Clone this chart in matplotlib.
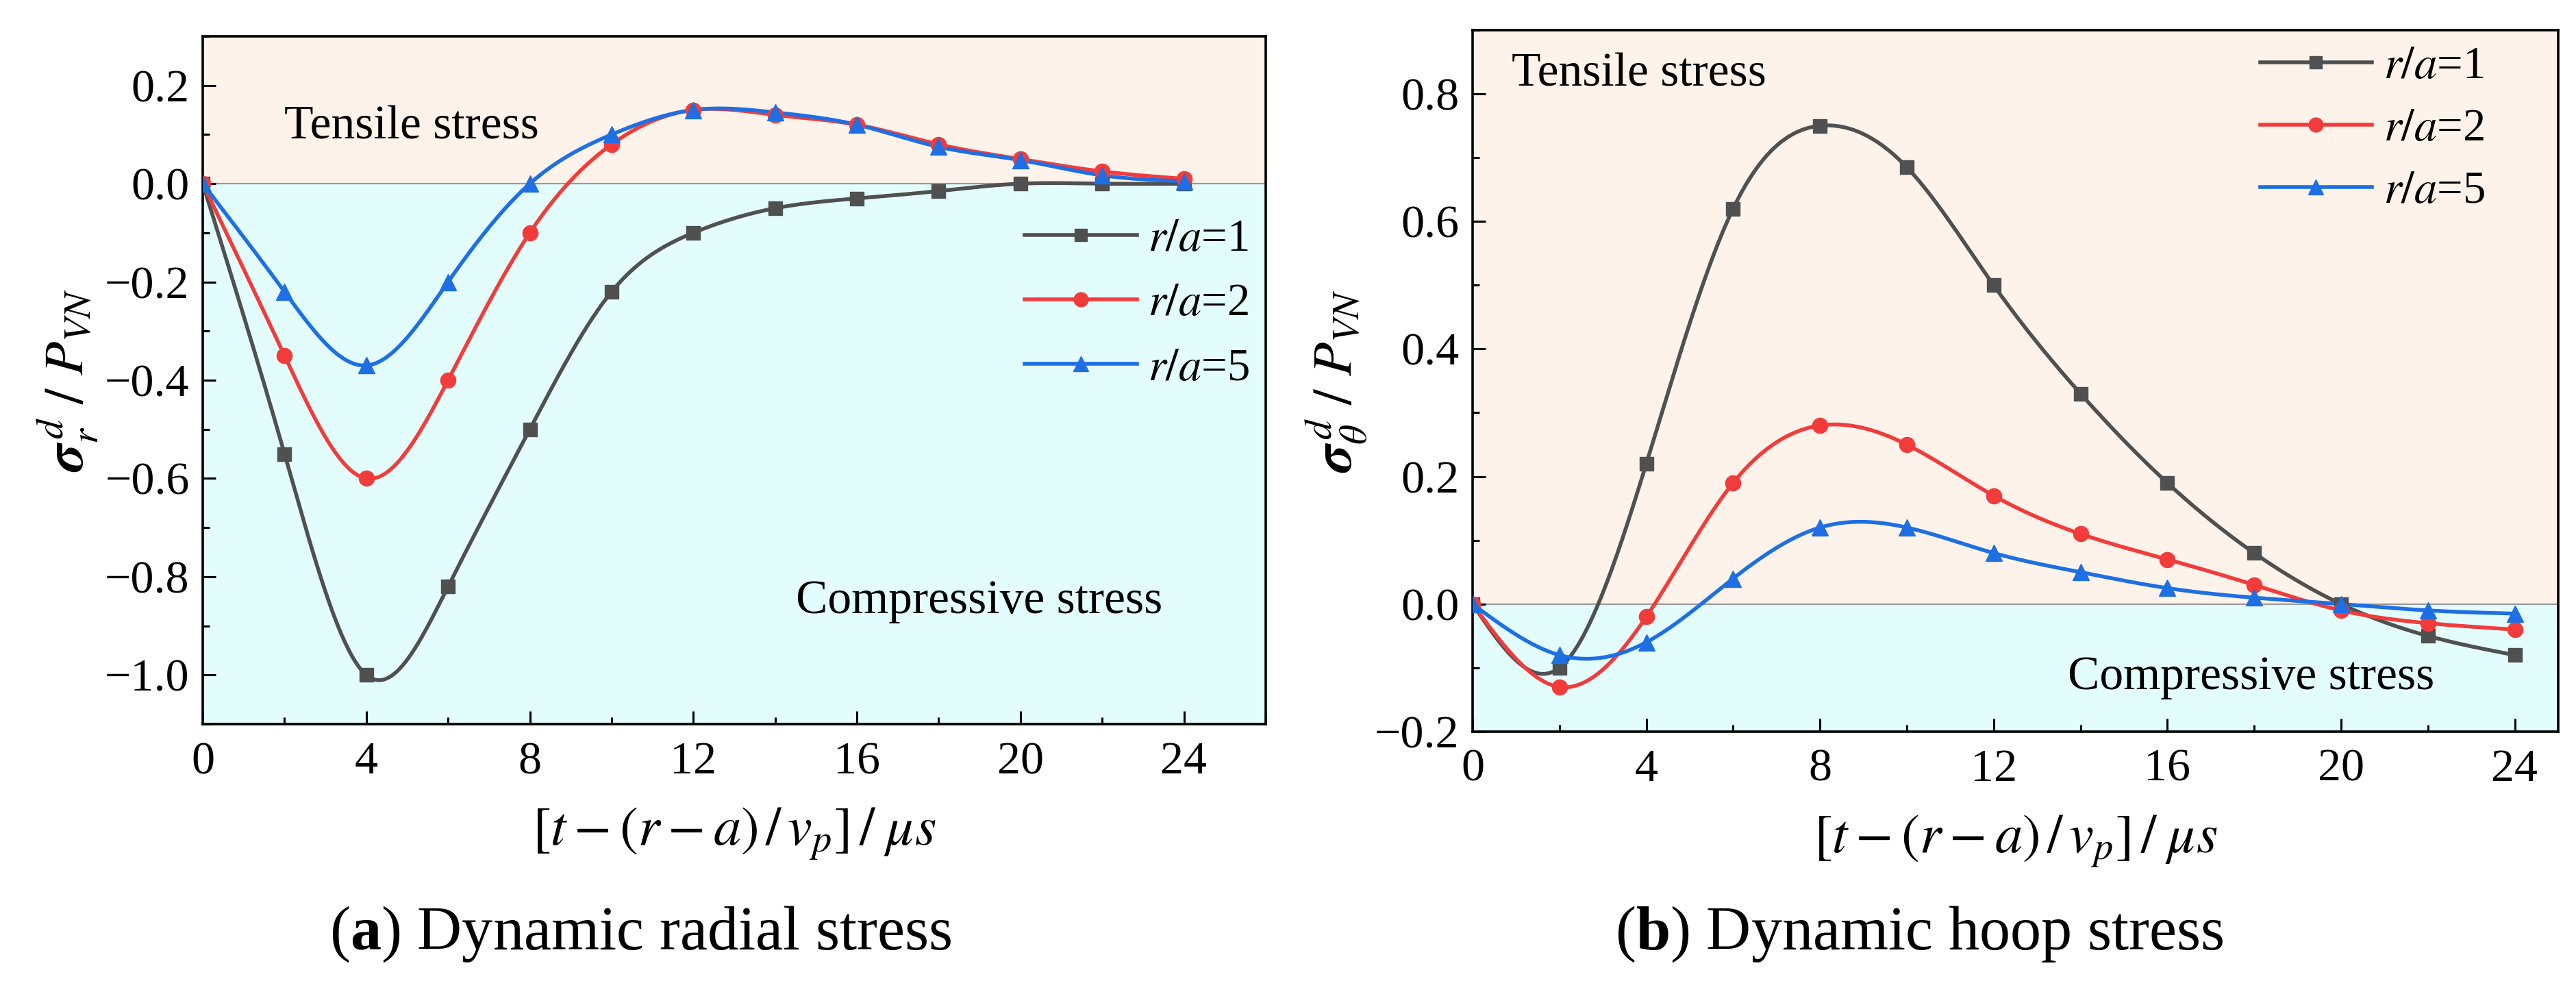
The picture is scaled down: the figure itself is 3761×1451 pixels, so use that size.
import numpy as np
import matplotlib
matplotlib.use("Agg")
import matplotlib.pyplot as plt
from matplotlib.ticker import MultipleLocator, FuncFormatter

plt.rcParams['font.family'] = ['Liberation Serif', 'DejaVu Serif']
plt.rcParams['mathtext.fontset'] = 'stix'
plt.rcParams['mathtext.rm'] = 'Liberation Serif'
plt.rcParams['mathtext.bf'] = 'Liberation Serif:bold'
plt.rcParams['mathtext.it'] = 'Liberation Serif:italic'
plt.rcParams['axes.unicode_minus'] = True

# ---------------- data ----------------
t = [0, 2, 4, 6, 8, 10, 12, 14, 16, 18, 20, 22, 24]
labels = [r'$r/a$=1', r'$r/a$=2', r'$r/a$=5']

radial_r1 = [0, -0.55, -1.0, -0.82, -0.5, -0.22, -0.10, -0.05, -0.03, -0.015, 0.0, 0.0, 0.0]
radial_r2 = [0, -0.35, -0.60, -0.40, -0.10, 0.08, 0.15, 0.14, 0.12, 0.08, 0.05, 0.025, 0.01]
radial_r5 = [0, -0.22, -0.37, -0.20, 0.0, 0.10, 0.15, 0.145, 0.12, 0.075, 0.048, 0.017, 0.005]

hoop_r1 = [0, -0.10, 0.22, 0.62, 0.75, 0.685, 0.50, 0.33, 0.19, 0.08, 0.0, -0.05, -0.08]
hoop_r2 = [0, -0.13, -0.02, 0.19, 0.28, 0.25, 0.17, 0.11, 0.07, 0.03, -0.01, -0.03, -0.04]
hoop_r5 = [0, -0.08, -0.06, 0.04, 0.12, 0.12, 0.08, 0.05, 0.025, 0.01, 0.0, -0.01, -0.015]

colors = ['#505050', '#f23c3c', '#1e6fe3']
markers = ['s', 'o', '^']
msizes = [14, 16, 17]

tensile_color = '#fdf3ea'
compress_color = '#e3fdfd'


def natural_spline(x, y, n=600):
    x = np.asarray(x, float)
    y = np.asarray(y, float)
    m = len(x)
    h = np.diff(x)
    A = np.zeros((m, m))
    b = np.zeros(m)
    A[0, 0] = 1
    A[-1, -1] = 1
    for i in range(1, m - 1):
        A[i, i - 1] = h[i - 1]
        A[i, i] = 2 * (h[i - 1] + h[i])
        A[i, i + 1] = h[i]
        b[i] = 6 * ((y[i + 1] - y[i]) / h[i] - (y[i] - y[i - 1]) / h[i - 1])
    M = np.linalg.solve(A, b)
    xs = np.linspace(x[0], x[-1], n)
    idx = np.clip(np.searchsorted(x, xs) - 1, 0, m - 2)
    x0, x1 = x[idx], x[idx + 1]
    hh = x1 - x0
    a = (x1 - xs) / hh
    bb = (xs - x0) / hh
    ys = (a * y[idx] + bb * y[idx + 1]
          + ((a ** 3 - a) * M[idx] + (bb ** 3 - bb) * M[idx + 1]) * hh ** 2 / 6)
    return xs, ys


fmt = FuncFormatter(lambda v, p: ('%.1f' % v).replace('-', '\u2212'))

fig = plt.figure(figsize=(37.62, 14.51), dpi=100)
axL = fig.add_axes([0.0787, 0.2715, 0.4125, 0.692])
axR = fig.add_axes([0.5715, 0.264, 0.4213, 0.7057])


def setup(ax, xlim, ylim, ymaj):
    ax.set_xlim(*xlim)
    ax.set_ylim(*ylim)
    ax.axhspan(0, ylim[1], color=tensile_color, zorder=0, lw=0)
    ax.axhspan(ylim[0], 0, color=compress_color, zorder=0, lw=0)
    ax.axhline(0, color='#9a9a9a', lw=1.6, zorder=1)
    ax.xaxis.set_major_locator(MultipleLocator(4))
    ax.xaxis.set_minor_locator(MultipleLocator(2))
    ax.yaxis.set_major_locator(MultipleLocator(ymaj))
    ax.yaxis.set_minor_locator(MultipleLocator(ymaj / 2))
    ax.yaxis.set_major_formatter(fmt)
    ax.tick_params(which='both', direction='in', top=False, right=False,
                   labelsize=49, width=2.2)
    ax.tick_params(which='major', length=14)
    ax.tick_params(which='minor', length=7)
    ax.tick_params(axis='y', pad=14)
    ax.tick_params(axis='x', pad=18)
    for s in ax.spines.values():
        s.set_linewidth(2.6)
    ax.set_xlabel(r'$[t-(r-a)\,/\,v_p]\,/\;\mu s$', fontsize=58, labelpad=24)


def draw(ax, series):
    for ys, c, mk, ms, lab in zip(series, colors, markers, msizes, labels):
        xs, yy = natural_spline(t, ys)
        ax.plot(xs, yy, color=c, lw=4.0, zorder=3)
        ax.plot(t, ys, color=c, lw=0, marker=mk, ms=ms, zorder=4)
        ax.plot([], [], color=c, lw=4.0, marker=mk, ms=ms - 1, label=lab)


setup(axL, (0, 26), (-1.1, 0.3), 0.2)
draw(axL, [radial_r1, radial_r2, radial_r5])
axL.set_ylabel(r'$\boldsymbol{\sigma}_r^{\,d}\ /\ P_{VN}$', fontsize=58, labelpad=6)
axL.text(2.0, 0.115, 'Tensile stress', fontsize=50, va='center', ha='left', zorder=5)
axL.text(14.5, -0.85, 'Compressive stress', fontsize=50, va='center', ha='left', zorder=5)
axL.legend(loc='upper right', bbox_to_anchor=(0.985, 0.735), frameon=False,
           fontsize=48, handlelength=2.45, handletextpad=0.25, labelspacing=0.5,
           borderpad=0, borderaxespad=0)

setup(axR, (0, 25), (-0.2, 0.9), 0.2)
draw(axR, [hoop_r1, hoop_r2, hoop_r5])
axR.set_ylabel(r'$\boldsymbol{\sigma}_\theta^{\,d}\ /\ P_{VN}$', fontsize=58, labelpad=6)
axR.text(0.9, 0.83, 'Tensile stress', fontsize=50, va='center', ha='left', zorder=5)
axR.text(13.7, -0.115, 'Compressive stress', fontsize=50, va='center', ha='left', zorder=5)
axR.legend(loc='upper right', bbox_to_anchor=(0.945, 0.997), frameon=False,
           fontsize=48, handlelength=2.45, handletextpad=0.25, labelspacing=0.45,
           borderpad=0.3, borderaxespad=0)

fig.text(0.2485, 0.06, r'(${\bf a}$) Dynamic radial stress', fontsize=65,
         ha='center', va='center', math_fontfamily='custom')
fig.text(0.745, 0.06, r'(${\bf b}$) Dynamic hoop stress', fontsize=65,
         ha='center', va='center', math_fontfamily='custom')

fig.savefig('out.png', dpi=100)
